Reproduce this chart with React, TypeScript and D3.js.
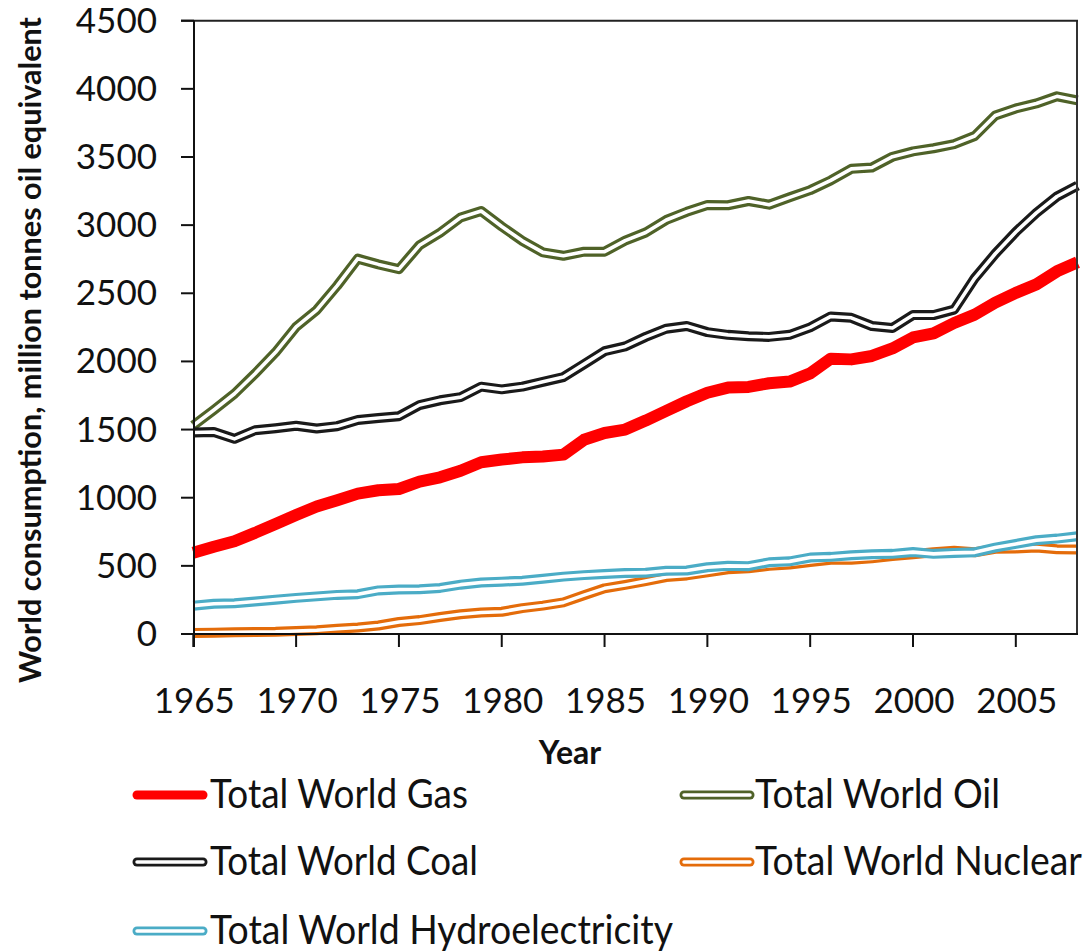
import React from "react";
import * as d3 from "d3";

const years = [1965,1966,1967,1968,1969,1970,1971,1972,1973,1974,1975,1976,1977,1978,1979,1980,1981,1982,1983,1984,1985,1986,1987,1988,1989,1990,1991,1992,1993,1994,1995,1996,1997,1998,1999,2000,2001,2002,2003,2004,2005,2006,2007,2008];

const gas = [596,640,680,742,808,873,935,982,1030,1055,1064,1118,1150,1198,1260,1280,1296,1302,1316,1425,1475,1500,1566,1637,1708,1770,1808,1813,1840,1852,1912,2020,2015,2040,2095,2176,2206,2282,2343,2431,2503,2565,2661,2728];
const oil = [1530,1644,1763,1910,2067,2254,2377,2556,2754,2712,2677,2852,2944,3056,3104,2990,2885,2800,2775,2805,2805,2886,2946,3038,3098,3148,3146,3177,3150,3204,3257,3328,3413,3423,3502,3541,3564,3594,3654,3804,3856,3893,3945,3915];
const coal = [1478,1482,1432,1495,1510,1528,1508,1525,1570,1585,1598,1680,1715,1738,1815,1795,1815,1850,1885,1980,2075,2110,2180,2240,2260,2215,2195,2185,2180,2195,2250,2330,2320,2260,2245,2340,2340,2380,2610,2790,2950,3090,3210,3290];
const nuclear = [8,10,12,14,16,22,28,38,48,62,88,102,125,145,158,163,190,208,232,285,335,360,388,418,430,452,475,482,500,510,528,545,545,555,572,585,600,610,600,625,628,635,622,620];
const hydro = [208,222,226,238,252,265,276,287,292,320,326,328,338,362,378,384,391,405,421,432,440,448,450,464,466,490,500,498,526,533,561,566,578,585,588,601,588,595,599,634,661,688,700,717];

const yTicks = [0,500,1000,1500,2000,2500,3000,3500,4000,4500];
const xTicks = [1965,1970,1975,1980,1985,1990,1995,2000,2005];

const seriesNames = ["Total World Gas","Total World Oil","Total World Coal","Total World Nuclear","Total World Hydroelectricity"];
const seriesColors = ["#ff0000","#4f6228","#1a1a1a","#e46c0a","#4bacc6"];
const seriesDouble = [false,true,true,true,true];
const seriesValues = [gas, oil, coal, nuclear, hydro];

const FONT = "Lato, 'Open Sans', sans-serif";

export default function App() {
  const left = 194, right = 1077, top = 20.7, bottom = 634;
  const x = d3.scaleLinear().domain([1965, 2008]).range([193.3, 1077.5]);
  const y = d3.scaleLinear().domain([0, 4500]).range([bottom, top]);
  const line = d3.line<number>().x((_, i) => x(years[i])).y((v) => y(v));

  const legendPos = [
    { lx: 133, tx: 210, ry: 795, tl: 258 },
    { lx: 680, tx: 755, ry: 795, tl: 245 },
    { lx: 133, tx: 210, ry: 862, tl: 268 },
    { lx: 680, tx: 755, ry: 862, tl: 327 },
    { lx: 133, tx: 210, ry: 931, tl: 463 },
  ];

  return (
    <svg width={1085} height={951} style={{ position: "absolute", left: 0, top: 0, background: "#fff" }}>
      <rect x={0} y={0} width={1085} height={951} fill="#fff" />
      <g fill="none" strokeLinejoin="round" strokeLinecap="butt">
        {seriesValues.map((vals, i) => (
          <g key={i}>
            {seriesDouble[i] ? (
              <>
                <path d={line(vals) || ""} stroke={seriesColors[i]} strokeWidth={10} />
                <path d={line(vals) || ""} stroke="#fff" strokeWidth={3.6} />
              </>
            ) : (
              <path d={line(vals) || ""} stroke={seriesColors[i]} strokeWidth={12} />
            )}
          </g>
        ))}
      </g>
      <line x1={right} y1={top} x2={right} y2={bottom} stroke="#333" strokeWidth={2} />
      <line x1={181} y1={top} x2={right + 1} y2={top} stroke="#222" strokeWidth={2} />
      <line x1={left} y1={top} x2={left} y2={bottom + 13} stroke="#111" strokeWidth={2} />
      <line x1={181} y1={bottom} x2={right + 1} y2={bottom} stroke="#111" strokeWidth={2} />
      {yTicks.map((t) => (
        <g key={"y" + t}>
          <line x1={181} x2={left} y1={y(t)} y2={y(t)} stroke="#111" strokeWidth={2} />
          <text x={157} y={y(t) + 12} textAnchor="end" fontFamily={FONT} fontSize={35} fill="#111">
            {t}
          </text>
        </g>
      ))}
      {xTicks.map((t) => (
        <g key={"x" + t}>
          <line x1={x(t)} x2={x(t)} y1={bottom} y2={bottom + 13} stroke="#111" strokeWidth={2} />
          <text x={x(t) + 1} y={713} textAnchor="middle" fontFamily={FONT} fontSize={35} fill="#111">
            {t}
          </text>
        </g>
      ))}
      <text x={570} y={764} textAnchor="middle" fontFamily={FONT} fontWeight="bold" fontSize={32} fill="#111">
        Year
      </text>
      <text
        transform="translate(41,350) rotate(-90)"
        textAnchor="middle"
        fontFamily={FONT}
        fontWeight="bold"
        fontSize={31}
        fill="#111"
        textLength={666}
        lengthAdjust="spacingAndGlyphs"
      >
        World consumption,  million  tonnes oil equivalent
      </text>
      {seriesNames.map((name, i) => {
        const p = legendPos[i];
        return (
          <g key={"lg" + i}>
            {seriesDouble[i] ? (
              <>
                <line x1={p.lx + 4} x2={p.lx + 70} y1={p.ry} y2={p.ry} stroke={seriesColors[i]} strokeWidth={9} strokeLinecap="round" />
                <line x1={p.lx + 4} x2={p.lx + 70} y1={p.ry} y2={p.ry} stroke="#fff" strokeWidth={3.5} strokeLinecap="round" />
              </>
            ) : (
              <line x1={p.lx + 4} x2={p.lx + 70} y1={p.ry} y2={p.ry} stroke={seriesColors[i]} strokeWidth={9} strokeLinecap="round" />
            )}
            <text
              transform={`translate(${p.tx},${p.ry + 13}) scale(1,1.08)`}
              fontFamily={FONT}
              fontSize={37}
              fill="#111"
              textLength={p.tl}
              lengthAdjust="spacingAndGlyphs"
            >
              {name}
            </text>
          </g>
        );
      })}
    </svg>
  );
}
